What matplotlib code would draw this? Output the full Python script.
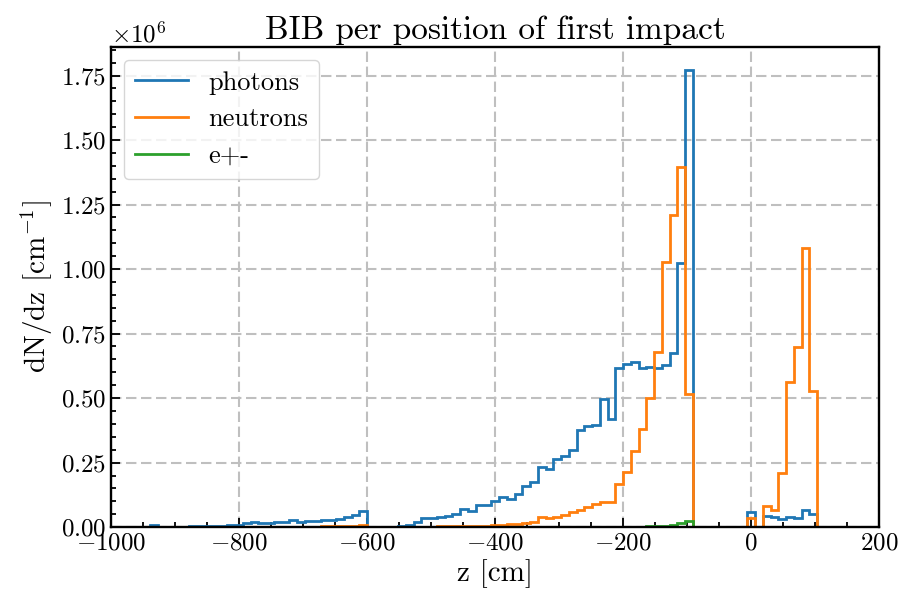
import matplotlib
matplotlib.use("Agg")
import matplotlib.pyplot as plt
import numpy as np
from matplotlib.ticker import AutoMinorLocator

# Computer Modern look
plt.rcParams["font.family"] = "serif"
plt.rcParams["font.serif"] = ["cmr10"]
plt.rcParams["mathtext.fontset"] = "cm"
plt.rcParams["axes.formatter.use_mathtext"] = True

# bin edges in z [cm]
edges = np.linspace(-1000, 200, 100)

# dN/dz per bin, in units of 1e6 cm^-1
photons = [
    0, 0, 0, 0, 0, 0.010, 0, 0, 0,
    0.002, 0.003, 0.004, 0.004, 0.005, 0.006, 0.008, 0.010,
    0.015, 0.019, 0.017, 0.017, 0.021, 0.021, 0.026, 0.019,
    0.023, 0.023, 0.027, 0.027, 0.032, 0.039, 0.048, 0.062,
    0, 0, 0, 0.002,
    0.003, 0.008, 0.021, 0.037, 0.035, 0.040, 0.045, 0.050, 0.072, 0.062,
    0.085, 0.084, 0.100, 0.117, 0.110, 0.130, 0.160, 0.174, 0.232, 0.224,
    0.263, 0.274, 0.300, 0.377, 0.390, 0.396, 0.495, 0.418, 0.615,
    0.632, 0.641, 0.615, 0.619, 0.615, 0.628, 0.674, 1.022, 1.772,
    0, 0, 0, 0, 0, 0, 0,
    0.058, 0, 0.045, 0.041, 0.032, 0.041, 0.037, 0.067, 0.052,
    0, 0, 0, 0, 0, 0, 0, 0,
]

neutrons = [
    0, 0, 0, 0, 0, 0, 0, 0, 0, 0, 0, 0, 0, 0, 0, 0, 0, 0, 0, 0,
    0, 0, 0, 0, 0, 0, 0,
    0.003, 0.004, 0.005, 0.005, 0.006, 0.008,
    0, 0, 0, 0, 0, 0, 0,
    0.002, 0.002, 0.003, 0.003, 0.004, 0.005, 0.005, 0.006, 0.006,
    0.008, 0.009, 0.011, 0.013, 0.017, 0.021, 0.039, 0.034, 0.041,
    0.046, 0.060, 0.068, 0.078, 0.088, 0.096, 0.096, 0.168, 0.212,
    0.296, 0.379, 0.500, 0.680, 1.028, 1.208, 1.396, 0.516,
    0, 0, 0, 0, 0, 0, 0,
    0.037, 0, 0.080, 0.065, 0.209, 0.564, 0.697, 1.083, 0.528,
    0, 0, 0, 0, 0, 0, 0, 0,
]

electrons = [0] * 68 + [0.002, 0.003, 0.004, 0.005, 0.008, 0.015, 0.022] + [0] * 24

series = [("photons", photons), ("neutrons", neutrons), ("e+-", electrons)]

fig, ax = plt.subplots(figsize=(8.99, 5.99), dpi=100)
fig.subplots_adjust(left=0.1235, right=0.978, bottom=0.12, top=0.9215)

for name, vals in series:
    ax.stairs(np.array(vals) * 1e6, edges, label=name, linewidth=2.0)

ax.set_xlim(-1000, 200)
ax.set_ylim(0, 1.772e6 * 1.05)

ax.set_title("BIB per position of first impact", fontsize=24)
ax.set_xlabel("z [cm]", fontsize=21)
ax.set_ylabel("dN/dz [cm$^{-1}$]", fontsize=21)

ax.xaxis.set_minor_locator(AutoMinorLocator())
ax.yaxis.set_minor_locator(AutoMinorLocator())
ax.tick_params(which="both", direction="in", labelsize=18, width=1.3)
ax.tick_params(which="major", length=6.5)
ax.tick_params(which="minor", length=3.5)
ax.yaxis.get_offset_text().set_fontsize(18)
for sp in ax.spines.values():
    sp.set_linewidth(1.7)

ax.grid(True, which="major", color="0.75", linestyle=(0, (5, 2.2)), linewidth=1.5)
ax.set_axisbelow(True)

ax.legend(loc="upper left", fontsize=19)

plt.savefig("out.png")
